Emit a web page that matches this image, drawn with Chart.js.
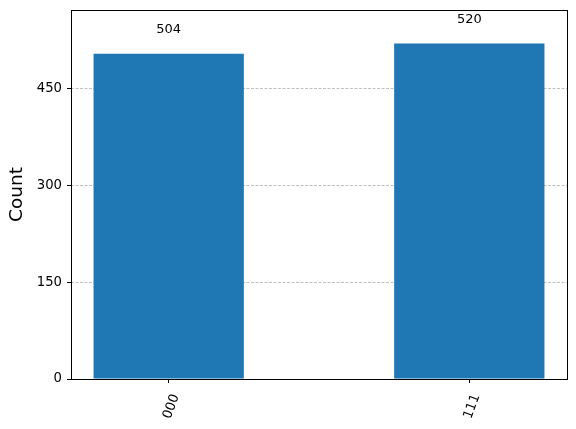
<!DOCTYPE html>
<html>
<head>
<meta charset="utf-8">
<script src="https://cdn.jsdelivr.net/npm/chart.js@4.4.1/dist/chart.umd.min.js"></script>
<style>
  html, body { margin: 0; padding: 0; background: #fff; }
  #wrap { width: 576px; height: 429px; }
</style>
</head>
<body>
<div id="wrap"><canvas id="myChart" width="576" height="429"></canvas></div>
<script>
// histogram data (bit strings -> counts)
var states = ["000", "111"];
var counts = [504, 520];
var yTicks = [0, 150, 300, 450];

var FONT = "'DejaVu Sans', sans-serif";
var ctx = "myChart";

// value labels above each bar + the black frame round the plot
var barLabels = {
  id: "barLabels",
  afterDatasetsDraw: function (chart) {
    var c = chart.ctx;
    var meta = chart.getDatasetMeta(0);
    c.save();
    c.fillStyle = "#000";
    c.font = "13px " + FONT;
    c.textAlign = "center";
    c.textBaseline = "middle";
    meta.data.forEach(function (bar, i) {
      c.fillText(String(counts[i]), bar.x, bar.y - 24);
    });
    var a = chart.chartArea;
    c.strokeStyle = "#000";
    c.lineWidth = 1;
    c.strokeRect(Math.round(a.left) + 0.5, Math.round(a.top) + 0.5,
      Math.round(a.right - a.left), Math.round(a.bottom - a.top));
    c.restore();
  }
};

function noPad(scale) {
  scale.paddingTop = 0;
  scale.paddingBottom = 0;
  scale.paddingLeft = 0;
  scale.paddingRight = 0;
}

var myChart = new Chart(ctx, {
  type: "bar",
  data: {
    datasets: [{
      data: states.map(function (s, i) { return { x: i, y: counts[i] }; }),
      backgroundColor: "#1f77b4",
      borderWidth: 0,
      inflateAmount: 0,
      barPercentage: 1.0,
      categoryPercentage: 0.5
    }]
  },
  options: {
    responsive: false,
    animation: false,
    layout: { padding: { top: 10, right: 9, left: 0, bottom: 0 } },
    plugins: { legend: { display: false }, tooltip: { enabled: false } },
    scales: {
      x: {
        type: "linear",
        offset: false,
        min: -0.325,
        max: 1.325,
        afterBuildTicks: function (scale) {
          scale.ticks = states.map(function (s, i) { return { value: i }; });
        },
        afterFit: function (scale) { scale.height = 50; noPad(scale); },
        grid: {
          offset: false,
          drawOnChartArea: false,
          tickColor: "#000",
          tickLength: 4,
          tickWidth: 1
        },
        border: { display: false },
        ticks: {
          color: "#000",
          font: { family: FONT, size: 13.2 },
          minRotation: 70,
          maxRotation: 70,
          padding: 9,
          labelOffset: 7,
          callback: function (v) { return states[v]; }
        }
      },
      y: {
        min: 0,
        max: 572,
        afterBuildTicks: function (scale) {
          scale.ticks = yTicks.map(function (v) { return { value: v }; });
        },
        afterFit: function (scale) { scale.width = 71; noPad(scale); },
        grid: {
          color: function (c) { return c.tick && c.tick.value === 0 ? "rgba(0,0,0,0)" : "#b0b0b0"; },
          lineWidth: 0.8,
          tickColor: "#000",
          tickLength: 4,
          tickWidth: 1,
          tickBorderDash: []
        },
        border: { display: false, dash: [3, 1.5] },
        ticks: {
          color: "#000",
          font: { family: FONT, size: 13.2 },
          padding: 5
        },
        title: {
          display: true,
          text: "Count",
          color: "#000",
          font: { family: FONT, size: 18.5 },
          padding: { top: 6.5, bottom: 0 }
        }
      }
    }
  },
  plugins: [barLabels]
});
</script>
</body>
</html>
